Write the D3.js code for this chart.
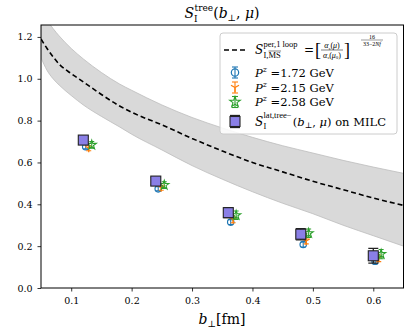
<!DOCTYPE html>
<html>
<head>
<meta charset="utf-8">
<script src="https://cdn.jsdelivr.net/npm/d3@7/dist/d3.min.js"></script>
<style>
  body { margin: 0; background: #fff; }
  svg text { font-family: "DejaVu Serif", "Liberation Serif", serif; fill: #000; }
  svg text.sm { font-family: "Liberation Serif", serif; }
</style>
</head>
<body>
<svg id="chart" width="415" height="332"></svg>
<script>
// ---- data ----
const curveB = [0.05, 0.06, 0.07, 0.08, 0.10, 0.12, 0.15, 0.18, 0.20, 0.25, 0.30, 0.35, 0.40, 0.45, 0.50, 0.55, 0.60, 0.65];
const curveS = [1.19, 1.145, 1.105, 1.07, 1.025, 0.985, 0.925, 0.87, 0.84, 0.78, 0.715, 0.655, 0.60, 0.555, 0.51, 0.47, 0.43, 0.395];
const bandUpper = [1.32, 1.28, 1.24, 1.205, 1.145, 1.095, 1.03, 0.975, 0.945, 0.875, 0.815, 0.765, 0.72, 0.68, 0.645, 0.61, 0.578, 0.548];
const bandLower = [1.10, 1.04, 1.00, 0.97, 0.92, 0.875, 0.82, 0.77, 0.735, 0.66, 0.585, 0.52, 0.46, 0.405, 0.355, 0.30, 0.25, 0.20];

const latB = [0.12, 0.24, 0.36, 0.48, 0.60];
const latS = [0.707, 0.511, 0.36, 0.257, 0.154];
const latErr = [0.018, 0.018, 0.024, 0.027, 0.035];

const pzLabels = ["1.72", "2.15", "2.58"];
const pzColors = ["#1f77b4", "#ff7f0e", "#2ca02c"];
const pzB = [
  [0.124, 0.244, 0.364, 0.484, 0.603],
  [0.129, 0.249, 0.368, 0.489, 0.609],
  [0.134, 0.254, 0.373, 0.493, 0.613]
];
const pzS = [
  [0.675, 0.474, 0.315, 0.208, 0.128],
  [0.668, 0.479, 0.326, 0.225, 0.142],
  [0.684, 0.492, 0.348, 0.262, 0.162]
];
const pzErr = [
  [0.010, 0.010, 0.012, 0.012, 0.014],
  [0.012, 0.012, 0.014, 0.014, 0.016],
  [0.016, 0.016, 0.020, 0.020, 0.022]
];

const xTicks = [0.1, 0.2, 0.3, 0.4, 0.5, 0.6];
const yTicks = [0.0, 0.2, 0.4, 0.6, 0.8, 1.0, 1.2];

// ---- layout ----
const mLeft = 41, mRight = 403.5, mTop = 25, mBottom = 288;
const svg = d3.select("#chart");
const x = d3.scaleLinear().domain([0.05, 0.65]).range([mLeft, mRight]);
const y = d3.scaleLinear().domain([0, 1.257]).range([mBottom, mTop]);

svg.append("defs").append("clipPath").attr("id", "plotclip")
  .append("rect").attr("x", mLeft).attr("y", mTop)
  .attr("width", mRight - mLeft).attr("height", mBottom - mTop);

const plot = svg.append("g").attr("clip-path", "url(#plotclip)");

// band
const band = d3.area()
  .x((d, i) => x(curveB[i]))
  .y0((d, i) => y(bandLower[i]))
  .y1((d, i) => y(bandUpper[i]))
  .curve(d3.curveMonotoneX);
plot.append("path").datum(curveB).attr("d", band)
  .attr("fill", "#d9d9d9").attr("stroke", "#bdbdbd").attr("stroke-width", 0.8);

// dashed curve
const line = d3.line()
  .x((d, i) => x(curveB[i]))
  .y((d, i) => y(curveS[i]))
  .curve(d3.curveMonotoneX);
plot.append("path").datum(curveS).attr("d", line)
  .attr("fill", "none").attr("stroke", "#000").attr("stroke-width", 1.6)
  .attr("stroke-dasharray", "5,3");

// marker helpers
function errBar(g, cx, cy, dy, color, cap, w) {
  g.append("line").attr("x1", cx).attr("x2", cx).attr("y1", cy - dy).attr("y2", cy + dy)
    .attr("stroke", color).attr("stroke-width", w);
  [cy - dy, cy + dy].forEach(yy => g.append("line")
    .attr("x1", cx - cap).attr("x2", cx + cap).attr("y1", yy).attr("y2", yy)
    .attr("stroke", color).attr("stroke-width", w));
}
function marker(g, k, cx, cy, s) {
  const c = pzColors[k];
  if (k === 0) {
    g.append("circle").attr("cx", cx).attr("cy", cy).attr("r", 3.2 * s)
      .attr("fill", "none").attr("stroke", c).attr("stroke-width", 1.2);
  } else if (k === 1) {
    const r = 4 * s;
    [[0, r], [-r * 0.87, -r * 0.5], [r * 0.87, -r * 0.5]].forEach(p =>
      g.append("line").attr("x1", cx).attr("y1", cy).attr("x2", cx + p[0]).attr("y2", cy + p[1])
        .attr("stroke", c).attr("stroke-width", 1.3));
  } else {
    g.append("path").attr("d", d3.symbol(d3.symbolStar, 26 * s * s)())
      .attr("transform", `translate(${cx},${cy})`)
      .attr("fill", "none").attr("stroke", c).attr("stroke-width", 1.1);
  }
}

// P^z points
const pts = plot.append("g");
for (let k = 0; k < 3; k++) {
  pzB[k].forEach((b, i) => {
    const cx = x(b), cy = y(pzS[k][i]);
    errBar(pts, cx, cy, y(0) - y(pzErr[k][i]), pzColors[k], 2.5, 1.1);
    marker(pts, k, cx, cy, 1);
  });
}

// lattice squares
const sq = plot.append("g");
latB.forEach((b, i) => {
  const cx = x(b), cy = y(latS[i]);
  errBar(sq, cx, cy, y(0) - y(latErr[i]), "#222", 5, 1.3);
  sq.append("rect").attr("x", cx - 5).attr("y", cy - 5).attr("width", 10).attr("height", 10)
    .attr("fill", "#8a7fe6").attr("stroke", "#222").attr("stroke-width", 1.1);
});

// axes
const xAxis = svg.append("g").attr("transform", `translate(0,${mBottom})`)
  .call(d3.axisBottom(x).tickValues(xTicks).tickFormat(d3.format(".1f")).tickSize(3.5).tickPadding(6));
const yAxis = svg.append("g").attr("transform", `translate(${mLeft},0)`)
  .call(d3.axisLeft(y).tickValues(yTicks).tickFormat(d3.format(".1f")).tickSize(3.5).tickPadding(5));
[xAxis, yAxis].forEach(a => {
  a.select(".domain").remove();
  a.selectAll("text").attr("font-size", 9.5).attr("font-family", "DejaVu Serif");
  a.selectAll("line").attr("stroke-width", 0.8);
});

svg.append("rect").attr("x", mLeft).attr("y", mTop).attr("width", mRight - mLeft).attr("height", mBottom - mTop)
  .attr("fill", "none").attr("stroke", "#000").attr("stroke-width", 1);

// title
const title = svg.append("text").attr("x", 222).attr("y", 18).attr("text-anchor", "middle").attr("font-size", 14);
title.append("tspan").attr("font-style", "italic").text("S");
title.append("tspan").attr("font-size", 9).attr("dy", 4).text("I");
title.append("tspan").attr("font-size", 9).attr("dx", -3).attr("dy", -11).text("tree");
title.append("tspan").attr("dy", 7).text("(");
title.append("tspan").attr("font-style", "italic").text("b");
title.append("tspan").attr("font-size", 9).attr("dy", 3).text("⊥");
title.append("tspan").attr("dy", -3).text(", ");
title.append("tspan").attr("font-style", "italic").text("μ");
title.append("tspan").text(")");

// x label
const xl = svg.append("text").attr("x", 222).attr("y", 324).attr("text-anchor", "middle").attr("font-size", 14);
xl.append("tspan").attr("font-style", "italic").text("b");
xl.append("tspan").attr("font-size", 9).attr("dy", 3).text("⊥");
xl.append("tspan").attr("dy", -3).text("[fm]");

// legend
const lg = svg.append("g");
lg.append("rect").attr("x", 220).attr("y", 33).attr("width", 177).attr("height", 101).attr("rx", 3)
  .attr("fill", "#fff").attr("fill-opacity", 0.85).attr("stroke", "#ccc").attr("stroke-width", 1);

const mx = 235, tx = 255;
const rowY = [50, 72.5, 87.5, 102, 121.5];

lg.append("line").attr("x1", mx - 11).attr("x2", mx + 12).attr("y1", rowY[0]).attr("y2", rowY[0])
  .attr("stroke", "#000").attr("stroke-width", 1.6).attr("stroke-dasharray", "5,3");

// formula row
lg.append("text").attr("x", tx).attr("y", rowY[0] + 4).attr("font-size", 12)
  .attr("font-style", "italic").text("S");
lg.append("text").attr("class", "sm").attr("x", tx + 8.5).attr("y", rowY[0] - 3.5).attr("font-size", 8.5)
  .text("per,1 loop");
lg.append("text").attr("class", "sm").attr("x", tx + 8.5).attr("y", rowY[0] + 7.5).attr("font-size", 8.5)
  .text("I,");
const ms = lg.append("text").attr("class", "sm").attr("x", tx + 13.5).attr("y", rowY[0] + 7.5).attr("font-size", 8.5)
  .text("MS");
const msb = ms.node().getBBox();
lg.append("line").attr("x1", msb.x).attr("x2", msb.x + msb.width).attr("y1", rowY[0] + 1).attr("y2", rowY[0] + 1)
  .attr("stroke", "#000").attr("stroke-width", 0.5);
lg.append("text").attr("x", 304).attr("y", rowY[0] + 4).attr("font-size", 12).text("=");
lg.append("text").attr("class", "sm").attr("x", 315).attr("y", rowY[0] + 6).attr("font-size", 18).text("[");
lg.append("text").attr("class", "sm").attr("x", 344).attr("y", rowY[0] + 6).attr("font-size", 18).text("]");
function alpha(t, zero) {
  t.append("tspan").attr("font-style", "italic").text("α");
  t.append("tspan").attr("font-size", 5).attr("dy", 1.5).attr("font-style", "italic").text("s");
  t.append("tspan").attr("dy", -1.5).text("(");
  t.append("tspan").attr("font-style", "italic").text("μ");
  if (zero) {
    t.append("tspan").attr("font-size", 5).attr("dy", 1.5).text("0");
    t.append("tspan").attr("dy", -1.5).text(")");
  } else t.append("tspan").text(")");
}
alpha(lg.append("text").attr("class", "sm").attr("x", 332).attr("y", rowY[0] - 2).attr("font-size", 8)
  .attr("text-anchor", "middle"), false);
lg.append("line").attr("x1", 321).attr("x2", 343).attr("y1", rowY[0]).attr("y2", rowY[0])
  .attr("stroke", "#000").attr("stroke-width", 0.5);
alpha(lg.append("text").attr("class", "sm").attr("x", 332).attr("y", rowY[0] + 7.5).attr("font-size", 8)
  .attr("text-anchor", "middle"), true);
lg.append("text").attr("class", "sm").attr("x", 372).attr("y", 38.5).attr("font-size", 6).attr("text-anchor", "middle").text("16");
lg.append("line").attr("x1", 361).attr("x2", 383).attr("y1", 40).attr("y2", 40)
  .attr("stroke", "#000").attr("stroke-width", 0.4);
const ex = lg.append("text").attr("class", "sm").attr("x", 372).attr("y", 45.5).attr("font-size", 6).attr("text-anchor", "middle");
ex.append("tspan").text("33−2");
ex.append("tspan").attr("font-style", "italic").text("Nf");

// P^z rows
pzLabels.forEach((lab, k) => {
  const cy = rowY[k + 1];
  errBar(lg, mx, cy, 5.5, pzColors[k], 3, 1.1);
  marker(lg, k, mx, cy, 1.15);
  const t = lg.append("text").attr("x", tx).attr("y", cy + 4).attr("font-size", 11.5);
  t.append("tspan").attr("font-style", "italic").text("P");
  t.append("tspan").attr("font-size", 8).attr("font-style", "italic").attr("dy", -5).text("z");
  t.append("tspan").attr("dy", 5).text(" =" + lab + " GeV");
});

// lattice row
const ly = rowY[4];
errBar(lg, mx, ly, 6, "#222", 5, 1.3);
lg.append("rect").attr("x", mx - 5).attr("y", ly - 5).attr("width", 10).attr("height", 10)
  .attr("fill", "#8a7fe6").attr("stroke", "#222").attr("stroke-width", 1.1);
lg.append("text").attr("x", tx).attr("y", ly + 4).attr("font-size", 12).attr("font-style", "italic").text("S");
const latSup = lg.append("text").attr("class", "sm").attr("x", tx + 8.5).attr("y", ly - 3.5).attr("font-size", 8.5).text("lat,tree−");
lg.append("text").attr("class", "sm").attr("x", tx + 8.5).attr("y", ly + 7.5).attr("font-size", 8.5).text("I");
const lsb = latSup.node().getBBox();
const lt = lg.append("text").attr("x", lsb.x + lsb.width + 1).attr("y", ly + 4).attr("font-size", 11.5);
lt.append("tspan").text("(");
lt.append("tspan").attr("font-style", "italic").text("b");
lt.append("tspan").attr("font-size", 8).attr("dy", 2.5).text("⊥");
lt.append("tspan").attr("dy", -2.5).text(", ");
lt.append("tspan").attr("font-style", "italic").text("μ");
lt.append("tspan").text(") on MILC");
</script>
</body>
</html>
